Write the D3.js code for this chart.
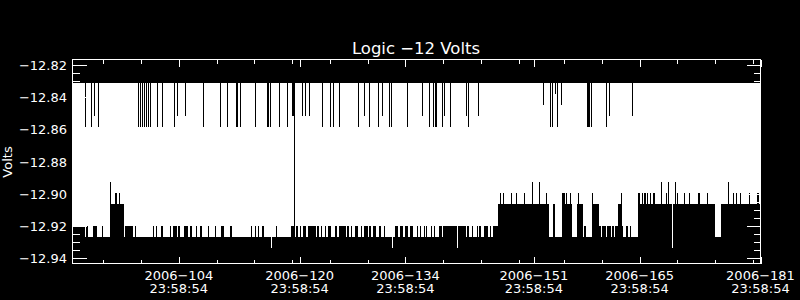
<!DOCTYPE html>
<html><head><meta charset="utf-8">
<script src="https://cdn.jsdelivr.net/npm/d3@7"></script>
<style>
body{margin:0;background:#000}
svg{display:block}
text{font-family:"DejaVu Sans",sans-serif;fill:#fff}
</style>
</head><body><svg id="c" width="800" height="300"></svg>
<script>
// ---------------- data ----------------
const title = "Logic \u221212 Volts";
const yTitle = "Volts";
const xDomain = [89.93, 181.0];          // day of year 2006 (23:58:54 ticks)
const yDomain = [-12.9431, -12.8169];
const yMajorTicks = [-12.82, -12.84, -12.86, -12.88, -12.90, -12.92, -12.94];
const yTickLabels = ["\u221212.82","\u221212.84","\u221212.86","\u221212.88","\u221212.90","\u221212.92","\u221212.94"];
const yMinorStep = 0.005;
const xMajorDays = [104, 120, 134, 151, 165, 181];
const xMajorLabels = ["2006\u2212104","2006\u2212120","2006\u2212134","2006\u2212151","2006\u2212165","2006\u2212181"];
const xMajorTimes = ["23:58:54","23:58:54","23:58:54","23:58:54","23:58:54","23:58:54"];
const xMinorDays = [94, 99, 109, 114, 119, 124, 129, 139, 144, 149, 155, 160, 170, 175, 180];

// usual envelope of the (densely oscillating) signal
const bandMax = -12.8314;
const bandMin = -12.9266;

// columns whose maximum stays below bandMax: [day, max volts]
const dips = [
 [91.65,-12.8586],[92.39,-12.8586],[92.79,-12.8518],[93.32,-12.8586],
 [98.61,-12.8586],[98.88,-12.8586],[99.14,-12.8586],[99.41,-12.8586],[99.67,-12.8586],[99.94,-12.8586],[100.20,-12.8586],
 [101.13,-12.8586],[101.79,-12.8586],[103.34,-12.8586],[103.74,-12.8518],[104.83,-12.8518],
 [107.22,-12.8586],[109.52,-12.8586],[110.39,-12.8586],[111.51,-12.8586],[111.77,-12.8586],[112.07,-12.8586],
 [114.06,-12.8586],[115.61,-12.8586],[115.82,-12.8586],[116.05,-12.8586],[117.28,-12.8586],[118.34,-12.8586],
 [119.00,-12.8518],[119.13,-12.8518],[119.29,-12.9198],
 [120.32,-12.8518],[120.72,-12.8518],[121.21,-12.8518],[123.02,-12.8586],[123.99,-12.8586],[124.35,-12.8586],
 [125.22,-12.8586],[127.73,-12.8586],[128.53,-12.8518],[129.19,-12.8586],[130.38,-12.8586],[130.91,-12.8518],
 [131.84,-12.8586],[132.06,-12.8586],[134.22,-12.8586],[136.21,-12.8518],[137.13,-12.8586],[137.66,-12.8586],
 [137.85,-12.8586],[138.11,-12.8586],[138.81,-12.8586],[139.12,-12.8518],[139.91,-12.8586],[142.03,-12.8518],
 [142.30,-12.8586],[143.62,-12.8518],
 [152.22,-12.8450],[153.15,-12.8586],[153.34,-12.8586],[153.81,-12.8382],[154.08,-12.8586],[154.61,-12.8450],
 [158.08,-12.8586],[158.21,-12.8586],[158.36,-12.8586],[158.50,-12.8586],
 [160.56,-12.8586],[160.96,-12.8518],[164.00,-12.8518]
];

// stretches whose minimum differs from bandMin: [start day, end day, min volts]
const floorRuns = [
 [89.93,91.56,-12.9198],[91.78,91.99,-12.9198],[92.58,93.11,-12.9198],[93.90,94.03,-12.9198],
 [94.87,96.76,-12.9062],[94.87,95.09,-12.8926],[95.53,95.66,-12.8994],[95.75,95.88,-12.8994],[96.06,96.19,-12.8994],
 [96.85,97.95,-12.9198],[98.18,98.40,-12.9198],[100.52,100.69,-12.9198],[100.96,101.13,-12.9198],[101.71,101.97,-12.9198],
 [102.81,103.03,-12.9198],[103.25,103.70,-12.9198],[103.91,104.13,-12.9198],[104.66,105.23,-12.9198],[105.46,105.81,-12.9198],
 [106.25,106.38,-12.9198],[106.78,107.04,-12.9198],[107.80,107.97,-12.9198],[108.73,108.99,-12.9198],[109.65,109.92,-12.9198],
 [110.75,111.02,-12.9198],[113.53,113.70,-12.9198],[114.06,114.19,-12.9198],[114.42,114.59,-12.9198],[114.95,115.29,-12.9198],
 [116.84,116.97,-12.9198],[118.83,119.36,-12.9198],[119.58,119.79,-12.9198],[120.11,120.24,-12.9198],[120.45,120.90,-12.9198],
 [121.12,122.10,-12.9198],[122.36,122.53,-12.9198],[122.80,123.02,-12.9198],[123.33,123.55,-12.9198],[123.76,124.12,-12.9198],
 [124.74,124.92,-12.9198],[125.18,126.07,-12.9198],[126.33,126.50,-12.9198],[126.77,126.94,-12.9198],[127.30,127.73,-12.9198],
 [128.09,128.26,-12.9198],[128.53,128.98,-12.9198],[129.15,129.42,-12.9198],[129.72,130.17,-12.9198],[130.47,130.83,-12.9198],
 [131.18,131.36,-12.9198],[132.59,133.03,-12.9198],[133.25,133.69,-12.9198],[133.92,134.35,-12.9198],[134.58,135.02,-12.9198],
 [135.47,135.68,-12.9198],[135.90,136.03,-12.9198],[136.43,136.56,-12.9198],[136.70,136.83,-12.9198],[137.45,137.58,-12.9198],
 [137.76,137.89,-12.9198],[138.42,138.81,-12.9198],[138.91,142.08,-12.9198],[142.16,142.35,-12.9198],[142.75,142.96,-12.9198],
 [143.41,143.54,-12.9198],[143.75,143.98,-12.9198],[144.41,144.94,-12.9198],[145.26,145.39,-12.9198],[145.61,146.23,-12.9198],
 [146.23,152.98,-12.9062],[146.49,146.62,-12.8994],[146.85,146.98,-12.8994],[148.04,148.17,-12.8994],[148.61,148.83,-12.8994],
 [149.67,149.80,-12.8994],[152.58,152.71,-12.8994],[150.77,150.90,-12.8926],[151.69,151.82,-12.8926],
 [153.47,153.77,-12.9062],
 [154.70,156.02,-12.9062],[154.70,155.10,-12.8994],[155.23,155.36,-12.8994],[155.76,155.89,-12.8994],
 [156.72,157.52,-12.9062],[156.82,156.95,-12.8994],[157.61,157.84,-12.9198],
 [158.63,159.60,-12.9062],[158.71,158.84,-12.8994],
 [159.60,159.86,-12.9198],[159.99,160.52,-12.9198],[160.66,161.18,-12.9198],[161.32,161.65,-12.9198],[161.78,162.15,-12.9198],
 [162.15,162.60,-12.9062],[162.47,162.60,-12.8994],
 [162.60,162.77,-12.9198],[163.26,163.40,-12.9198],[163.70,163.83,-12.9198],
 [164.72,174.95,-12.9062],[164.80,165.02,-12.8994],[165.25,165.38,-12.8994],[165.59,165.78,-12.8994],[165.99,166.12,-12.8994],
 [166.35,166.57,-12.8994],[166.78,167.01,-12.8994],[168.47,168.60,-12.8994],[169.96,170.09,-12.8994],[170.89,171.02,-12.8994],
 [171.51,171.64,-12.8994],[172.74,172.97,-12.8994],[173.89,174.07,-12.8994],
 [167.84,167.97,-12.8926],[168.77,168.90,-12.8926],[169.70,169.83,-12.8926],
 [175.75,181.00,-12.9062],[177.33,177.46,-12.8994],[177.73,177.86,-12.8994],[178.30,178.43,-12.8994],[179.45,179.58,-12.8994],
 [180.55,180.82,-12.8994],[176.71,176.84,-12.8926],
 // single low excursions
 [116.22,116.35,-12.9334],[132.16,132.29,-12.9334],[140.84,140.97,-12.9334],[169.30,169.43,-12.9334]
];

// ---------------- drawing ----------------
const W = 800, H = 300;
const L = 72.5, R = 760.5, T = 59.5, B = 263.5;
const svg = d3.select("#c");
const x = d3.scaleLinear().domain(xDomain).range([L, R]);
const y = d3.scaleLinear().domain(yDomain).range([B, T]);
const colW = x(xDomain[0] + 0.1324) - x(xDomain[0]);

svg.append("rect").attr("width", W).attr("height", H).attr("fill", "#000");
const plot = svg.append("g").attr("shape-rendering", "crispEdges");

// base envelope
plot.append("rect")
  .attr("x", x(xDomain[0])).attr("width", x(xDomain[1]) - x(xDomain[0]))
  .attr("y", y(bandMax)).attr("height", y(bandMin) - y(bandMax))
  .attr("fill", "#fff");

// raised minima (black from min up)
const raised = floorRuns.filter(d => d[2] > bandMin);
plot.selectAll("rect.raise").data(raised).join("rect").attr("class","raise")
  .attr("x", d => x(d[0])).attr("width", d => Math.max(1, x(d[1]) - x(d[0])))
  .attr("y", d => y(d[2])).attr("height", d => y(bandMin) - y(d[2]) + 1)
  .attr("fill", "#000");

// lower minima (white spikes)
const lowered = floorRuns.filter(d => d[2] < bandMin);
plot.selectAll("rect.low").data(lowered).join("rect").attr("class","low")
  .attr("x", d => x(d[0])).attr("width", d => Math.max(1, x(d[1]) - x(d[0])))
  .attr("y", y(bandMax)).attr("height", d => y(d[2]) - y(bandMax))
  .attr("fill", "#fff");

// lower maxima (black dips from top)
plot.selectAll("rect.dip").data(dips).join("rect").attr("class","dip")
  .attr("x", d => x(d[0])).attr("width", Math.max(1, colW))
  .attr("y", y(bandMax)).attr("height", d => y(d[1]) - y(bandMax))
  .attr("fill", "#000");

// ---------------- axes ----------------
const ax = svg.append("g").attr("shape-rendering", "crispEdges").attr("stroke", "#fff").attr("stroke-width", 1);
ax.append("rect").attr("x", L).attr("y", T).attr("width", R - L).attr("height", B - T).attr("fill", "none");

const yMinorVals = d3.range(-12.815, -12.945, -yMinorStep).filter(v => v > yDomain[0] && v < yDomain[1]);
yMinorVals.forEach(v => {
  const yy = Math.round(y(v)) + 0.5;
  ax.append("line").attr("x1", L).attr("x2", L + 7).attr("y1", yy).attr("y2", yy);
  ax.append("line").attr("x1", R).attr("x2", R - 7).attr("y1", yy).attr("y2", yy);
});
yMajorTicks.forEach(v => {
  const yy = Math.round(y(v)) + 0.5;
  ax.append("line").attr("x1", L).attr("x2", L + 14).attr("y1", yy).attr("y2", yy);
  ax.append("line").attr("x1", R).attr("x2", R - 14).attr("y1", yy).attr("y2", yy);
});
xMinorDays.forEach(d => {
  const xx = Math.round(x(d)) + 0.5;
  ax.append("line").attr("x1", xx).attr("x2", xx).attr("y1", B).attr("y2", B - 4);
  ax.append("line").attr("x1", xx).attr("x2", xx).attr("y1", T).attr("y2", T + 4);
});
xMajorDays.forEach(d => {
  const xx = Math.round(x(d)) + 0.5;
  ax.append("line").attr("x1", xx).attr("x2", xx).attr("y1", B).attr("y2", B - 7);
  ax.append("line").attr("x1", xx).attr("x2", xx).attr("y1", T).attr("y2", T + 7);
});

// labels
svg.selectAll("text.yl").data(yMajorTicks).join("text").attr("class","yl")
  .attr("x", 67).attr("y", d => y(d) + 5)
  .attr("text-anchor", "end").attr("font-size", 13)
  .text((d, i) => yTickLabels[i]);

svg.selectAll("text.xl").data(xMajorDays).join("text").attr("class","xl")
  .attr("x", d => x(d)).attr("y", 279.5)
  .attr("text-anchor", "middle").attr("font-size", 13)
  .text((d, i) => xMajorLabels[i]);
svg.selectAll("text.xt").data(xMajorDays).join("text").attr("class","xt")
  .attr("x", d => x(d)).attr("y", 293)
  .attr("text-anchor", "middle").attr("font-size", 13)
  .text((d, i) => xMajorTimes[i]);

svg.append("text").attr("x", 416).attr("y", 53.5).attr("text-anchor", "middle")
  .attr("font-size", 16.5).text(title);
svg.append("text").attr("transform", "translate(12,162) rotate(-90)")
  .attr("text-anchor", "middle").attr("font-size", 13).text(yTitle);
</script>
</body></html>
